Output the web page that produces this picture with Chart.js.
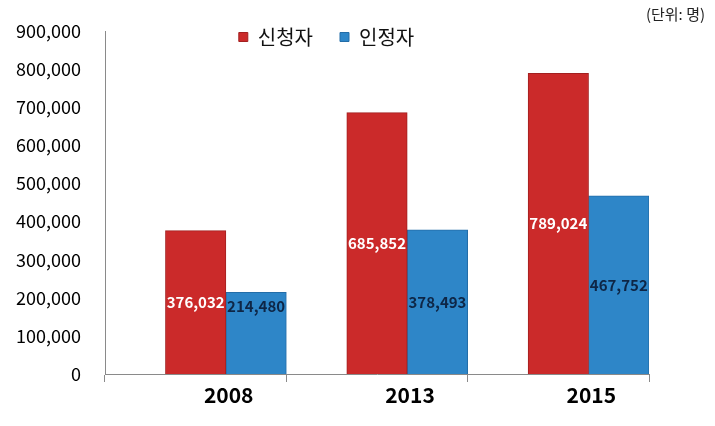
<!DOCTYPE html>
<html>
<head>
<meta charset="utf-8">
<script src="https://cdn.jsdelivr.net/npm/chart.js@4"></script>
<style>
  html, body { margin: 0; padding: 0; background: #fff; }
  #wrap { width: 715px; height: 426px; }
</style>
</head>
<body>
<div id="wrap"><canvas id="personChart" width="715" height="426"></canvas></div>
<script>
// chart values
const years = ['2008', '2013', '2015'];
const applicants = [376032, 685852, 789024];   // 신청자
const approved = [214480, 378493, 467752];     // 인정자
const emptySeries = [null, null, null];        // empty first series in the original
const yTicks = [0, 100000, 200000, 300000, 400000, 500000, 600000, 700000, 800000, 900000];

const FONT = '"Noto Sans CJK KR", "Noto Sans", sans-serif';

const unitPlugin = {
    id: 'unitText',
    afterDraw(chart) {
        const ctx = chart.ctx;
        ctx.save();
        ctx.font = '15px ' + FONT;
        ctx.fillStyle = '#222';
        ctx.textAlign = 'right';
        ctx.textBaseline = 'middle';
        ctx.fillText('(단위: 명)', 705, 14);
        ctx.restore();
    }
};

// value labels in the middle of each bar
const barLabels = {
    id: 'barLabels',
    afterDatasetsDraw(chart) {
        const ctx = chart.ctx;
        ctx.save();
        ctx.font = 'bold 15px ' + FONT;
        ctx.textAlign = 'center';
        ctx.textBaseline = 'middle';
        chart.data.datasets.forEach(function(ds, i) {
            if (!ds.labelColor) return;
            chart.getDatasetMeta(i).data.forEach(function(bar, j) {
                if (ds.data[j] == null) return;
                let y = (bar.y + bar.base) / 2;
                if (i === 2 && j === 0) y -= 27;
                ctx.fillStyle = ds.labelColor;
                ctx.fillText(ds.data[j].toLocaleString('en-US'), bar.x, y);
            });
        });
        ctx.restore();
    }
};

// move the legend down into the plot, left of centre, as in the picture
const legendShift = {
    id: 'legendShift',
    afterLayout(chart) {
        const lg = chart.legend;
        lg.top = 0;
        lg.bottom = 60;
        lg.height = 60;
        lg.left = 126;
        lg.right = 527;
        lg.width = lg.right - lg.left;
    }
};

new Chart(document.getElementById('personChart').getContext('2d'), {
    type: 'bar',
    data: {
        labels: years,
        datasets: [{
            label: '',
            data: emptySeries,
            backgroundColor: 'rgba(0,0,0,0)'
        }, {
            label: '신청자',
            data: applicants,
            backgroundColor: '#CB2A2A',
            borderColor: '#A32020',
            borderWidth: 1,
            labelColor: '#ffffff'
        }, {
            label: '인정자',
            data: approved,
            backgroundColor: '#2E86C8',
            borderColor: '#236DA8',
            borderWidth: 1,
            labelColor: '#0E2646'
        }]
    },
    options: {
        responsive: false,
        animation: false,
        locale: 'en-US',
        layout: { padding: { top: 0, right: 66, left: 0, bottom: 0 } },
        categoryPercentage: 1.0,
        barPercentage: 1.0,
        plugins: {
            tooltip: { enabled: false },
            legend: {
                position: 'top',
                align: 'center',
                maxHeight: 31,
                labels: {
                    filter: function(item) { return item.text !== ''; },
                    usePointStyle: true,
                    pointStyle: 'rect',
                    boxWidth: 9,
                    boxHeight: 9,
                    padding: 27,
                    color: '#111',
                    font: { family: FONT, size: 20 }
                }
            }
        },
        scales: {
            x: {
                grid: {
                    display: true,
                    drawOnChartArea: false,
                    drawTicks: true,
                    tickLength: 8,
                    color: '#8a8a8a'
                },
                border: { display: true, color: '#8a8a8a', width: 1 },
                ticks: {
                    color: '#000',
                    labelOffset: 33,
                    padding: 0,
                    font: { family: FONT, size: 21, weight: 'bold' }
                },
                afterFit: function(scale) { scale.height = 52; }
            },
            y: {
                min: 0,
                max: 900000,
                afterBuildTicks: function(scale) {
                    scale.ticks = yTicks.map(function(v) { return { value: v }; });
                },
                grid: { display: false },
                border: { display: true, color: '#8a8a8a', width: 1 },
                ticks: {
                    color: '#000',
                    padding: 16,
                    font: { family: FONT, size: 18 },
                    callback: function(v) { return v.toLocaleString('en-US'); }
                },
                afterFit: function(scale) { scale.width = 105; }
            }
        }
    },
    plugins: [unitPlugin, barLabels, legendShift]
});
</script>
</body>
</html>
